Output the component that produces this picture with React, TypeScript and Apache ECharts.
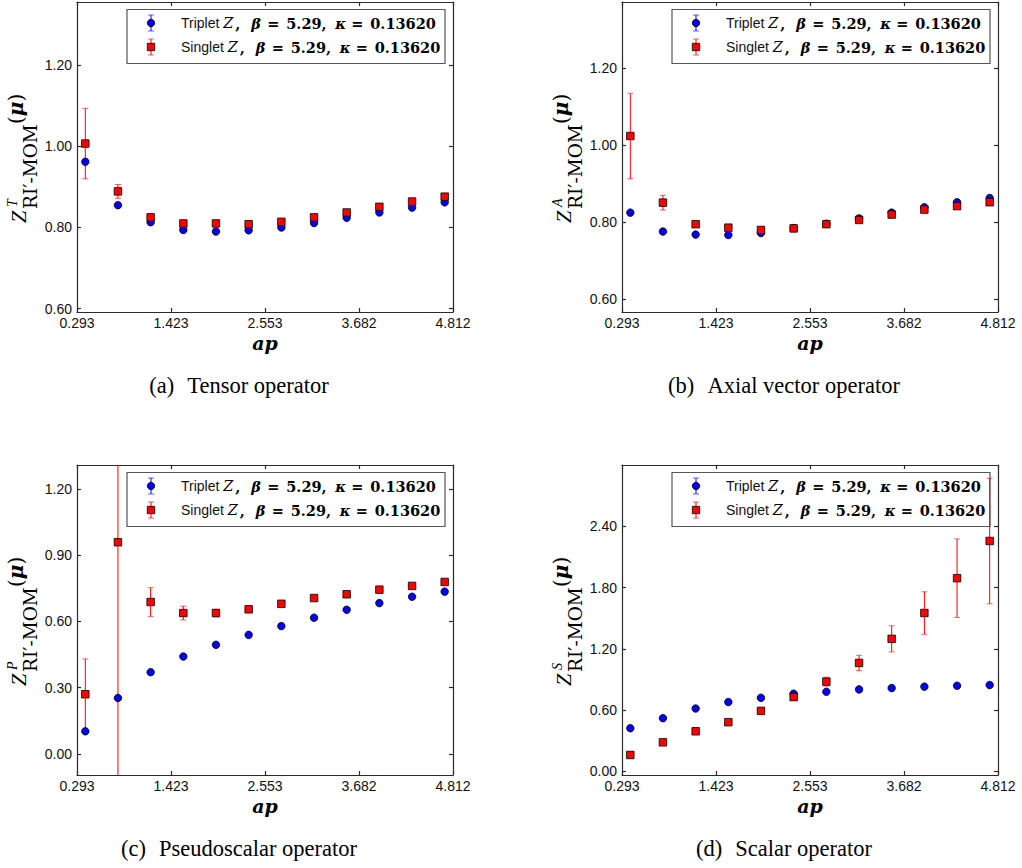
import React, { useEffect, useRef } from "react";
import * as echarts from "echarts";

// ---------- data ----------
const AP = [0.393, 0.785, 1.178, 1.571, 1.963, 2.356, 2.749, 3.142, 3.534, 3.927, 4.32, 4.712];
const X_TICKS = [0.293, 1.423, 2.553, 3.682, 4.812];

// (a) Tensor
const TENSOR_TRIPLET = [0.962, 0.855, 0.813, 0.794, 0.79, 0.793, 0.8, 0.811, 0.824, 0.837, 0.849, 0.862];
const TENSOR_TRIPLET_ERR = [0.003, 0.002, 0.002, 0.002, 0.002, 0.002, 0.002, 0.002, 0.002, 0.002, 0.002, 0.002];
const TENSOR_SINGLET = [1.007, 0.889, 0.825, 0.81, 0.81, 0.808, 0.814, 0.825, 0.837, 0.851, 0.864, 0.876];
const TENSOR_SINGLET_ERR = [0.087, 0.017, 0.006, 0.005, 0.004, 0.004, 0.004, 0.004, 0.004, 0.004, 0.004, 0.004];
const TENSOR_Y_TICKS = [0.6, 0.8, 1.0, 1.2];

// (b) Axial vector
const AXIAL_TRIPLET = [0.825, 0.776, 0.768, 0.767, 0.772, 0.785, 0.796, 0.81, 0.825, 0.839, 0.852, 0.863];
const AXIAL_TRIPLET_ERR = [0.003, 0.002, 0.002, 0.002, 0.002, 0.002, 0.002, 0.002, 0.002, 0.002, 0.002, 0.002];
const AXIAL_SINGLET = [1.024, 0.851, 0.795, 0.786, 0.78, 0.784, 0.795, 0.806, 0.82, 0.833, 0.842, 0.852];
const AXIAL_SINGLET_ERR = [0.111, 0.019, 0.006, 0.005, 0.004, 0.004, 0.004, 0.004, 0.004, 0.004, 0.004, 0.004];
const AXIAL_Y_TICKS = [0.6, 0.8, 1.0, 1.2];

// (c) Pseudoscalar
const PSEUDO_TRIPLET = [0.102, 0.253, 0.37, 0.441, 0.494, 0.539, 0.579, 0.617, 0.653, 0.683, 0.712, 0.735];
const PSEUDO_TRIPLET_ERR = [0.004, 0.003, 0.003, 0.002, 0.002, 0.002, 0.002, 0.002, 0.002, 0.002, 0.002, 0.002];
const PSEUDO_SINGLET = [0.27, 0.959, 0.688, 0.638, 0.638, 0.655, 0.68, 0.706, 0.723, 0.744, 0.761, 0.779];
const PSEUDO_SINGLET_ERR = [0.16, 1.5, 0.065, 0.031, 0.017, 0.01, 0.006, 0.005, 0.004, 0.004, 0.004, 0.004];
const PSEUDO_Y_TICKS = [0.0, 0.3, 0.6, 0.9, 1.2];

// (d) Scalar
const SCALAR_TRIPLET = [0.423, 0.521, 0.616, 0.679, 0.721, 0.761, 0.78, 0.803, 0.816, 0.83, 0.839, 0.846];
const SCALAR_TRIPLET_ERR = [0.004, 0.003, 0.003, 0.003, 0.003, 0.003, 0.003, 0.003, 0.003, 0.003, 0.003, 0.003];
const SCALAR_SINGLET = [0.161, 0.285, 0.393, 0.482, 0.593, 0.728, 0.879, 1.062, 1.298, 1.551, 1.892, 2.256];
const SCALAR_SINGLET_ERR = [0.005, 0.006, 0.008, 0.01, 0.012, 0.022, 0.043, 0.075, 0.128, 0.208, 0.384, 0.615];
const SCALAR_Y_TICKS = [0.0, 0.6, 1.2, 1.8, 2.4];

const LEGEND_BETA = "5.29";
const LEGEND_KAPPA = "0.13620";

// ---------- layout ----------
const PANELS = [
  { left: 77, top: 2, yMin: 0.5916, yMax: 1.356, yTicks: TENSOR_Y_TICKS, sup: "T", cap: "(a)", title: "Tensor operator",
    trip: TENSOR_TRIPLET, tripErr: TENSOR_TRIPLET_ERR, sing: TENSOR_SINGLET, singErr: TENSOR_SINGLET_ERR },
  { left: 622, top: 2, yMin: 0.567, yMax: 1.372, yTicks: AXIAL_Y_TICKS, sup: "A", cap: "(b)", title: "Axial vector operator",
    trip: AXIAL_TRIPLET, tripErr: AXIAL_TRIPLET_ERR, sing: AXIAL_SINGLET, singErr: AXIAL_SINGLET_ERR },
  { left: 77, top: 465, yMin: -0.096, yMax: 1.309, yTicks: PSEUDO_Y_TICKS, sup: "P", cap: "(c)", title: "Pseudoscalar operator",
    trip: PSEUDO_TRIPLET, tripErr: PSEUDO_TRIPLET_ERR, sing: PSEUDO_SINGLET, singErr: PSEUDO_SINGLET_ERR },
  { left: 622, top: 465, yMin: -0.035, yMax: 3.0, yTicks: SCALAR_Y_TICKS, sup: "S", cap: "(d)", title: "Scalar operator",
    trip: SCALAR_TRIPLET, tripErr: SCALAR_TRIPLET_ERR, sing: SCALAR_SINGLET, singErr: SCALAR_SINGLET_ERR },
];
const GW = 376;
const GH = 310;

const AXIS_COLOR = "#2a2a2a";
const BLUE = "#0000ff";
const RED = "#ff0000";

function errorBarSeries(xi: number, color: string, capColor: string, vals: number[], errs: number[], name: string) {
  return {
    type: "custom",
    name,
    xAxisIndex: xi,
    yAxisIndex: xi,
    encode: { x: 0, y: 1 },
    data: AP.map((x, k) => [x, vals[k], errs[k]]),
    renderItem: (params: any, api: any) => {
      const x = api.value(0);
      const y = api.value(1);
      const e = api.value(2);
      const c = api.coord([x, y]);
      const top = api.coord([x, y + e])[1];
      const bot = api.coord([x, y - e])[1];
      const cs = params.coordSys;
      const t = Math.max(top, cs.y);
      const b = Math.min(bot, cs.y + cs.height);
      const children: any[] = [
        { type: "line", shape: { x1: c[0], y1: t, x2: c[0], y2: b }, style: { stroke: color, lineWidth: 1 } },
      ];
      if (top >= cs.y)
        children.push({ type: "line", shape: { x1: c[0] - 3, y1: top, x2: c[0] + 3, y2: top }, style: { stroke: capColor, lineWidth: 1 } });
      if (bot <= cs.y + cs.height)
        children.push({ type: "line", shape: { x1: c[0] - 3, y1: bot, x2: c[0] + 3, y2: bot }, style: { stroke: capColor, lineWidth: 1 } });
      return { type: "group", children };
    },
    z: 2,
  };
}

function markerSeries(xi: number, symbol: string, color: string, vals: number[], name: string) {
  return {
    type: "scatter",
    name,
    xAxisIndex: xi,
    yAxisIndex: xi,
    symbol,
    symbolSize: 7.5,
    itemStyle: { color, borderColor: "#000", borderWidth: 0.8, opacity: 1 },
    data: AP.map((x, k) => [x, vals[k]]),
    z: 2,
  };
}

const MATH_FS = 14.5;
const legendRich = {
  s: { fontFamily: "Liberation Sans", fontSize: 14, fill: "#111" },
  z: { fontFamily: "DejaVu Serif", fontStyle: "italic", fontSize: MATH_FS, fill: "#000", width: 12 },
  c: { fontFamily: "DejaVu Serif", fontWeight: "bold", fontSize: MATH_FS, fill: "#000", width: 16 },
  g: { fontFamily: "DejaVu Serif", fontWeight: "bold", fontStyle: "italic", fontSize: MATH_FS, fill: "#000", width: 16 },
  e1: { fontFamily: "DejaVu Serif", fontWeight: "bold", fontSize: MATH_FS, fill: "#000", width: 19 },
  n1: { fontFamily: "DejaVu Serif", fontWeight: "bold", fontSize: MATH_FS, fill: "#000", width: 49 },
  k: { fontFamily: "DejaVu Serif", fontWeight: "bold", fontStyle: "italic", fontSize: MATH_FS, fill: "#000", width: 16 },
  e2: { fontFamily: "DejaVu Serif", fontWeight: "bold", fontSize: MATH_FS, fill: "#000", width: 19 },
  n2: { fontFamily: "DejaVu Serif", fontWeight: "bold", fontSize: MATH_FS, fill: "#000" },
};

function legendEntryText(label: string) {
  return `{s|${label} }{z|Z}{c|,}{g|β}{e1|=}{n1|${LEGEND_BETA},}{k|κ}{e2|=}{n2|${LEGEND_KAPPA}}`;
}

function legendGroup(lx: number, ly: number) {
  const rows = [
    { y: 13.5, label: "Triplet", color: BLUE, cap: "rgba(0,0,255,0.6)", marker: "circle" },
    { y: 37.5, label: "Singlet", color: RED, cap: "rgba(255,0,0,0.6)", marker: "rect" },
  ];
  const children: any[] = [
    { type: "rect", shape: { x: 0, y: 0, width: 318, height: 54 }, style: { fill: "#fff", stroke: "#555", lineWidth: 1.2 } },
  ];
  rows.forEach((r) => {
    children.push({ type: "line", shape: { x1: 24, y1: r.y - 8, x2: 24, y2: r.y + 8 }, style: { stroke: r.color, lineWidth: 1 } });
    children.push({ type: "line", shape: { x1: 21, y1: r.y - 8, x2: 27, y2: r.y - 8 }, style: { stroke: r.cap, lineWidth: 1 } });
    children.push({ type: "line", shape: { x1: 21, y1: r.y + 8, x2: 27, y2: r.y + 8 }, style: { stroke: r.cap, lineWidth: 1 } });
    if (r.marker === "circle") {
      children.push({ type: "circle", shape: { cx: 24, cy: r.y, r: 3.7 }, style: { fill: r.color, stroke: "#000", lineWidth: 0.8 } });
    } else {
      children.push({ type: "rect", shape: { x: 20.3, y: r.y - 3.7, width: 7.4, height: 7.4 }, style: { fill: r.color, stroke: "#000", lineWidth: 0.8 } });
    }
    children.push({
      type: "text",
      style: { text: legendEntryText(r.label), rich: legendRich, x: 54, y: r.y, verticalAlign: "middle", textAlign: "left" },
    });
  });
  return { type: "group", x: lx, y: ly, children, z: 10 };
}

function yLabelGroup(px: number, py: number, sup: string) {
  return {
    type: "group",
    x: px,
    y: py,
    rotation: Math.PI / 2,
    children: [
      { type: "text", style: { text: "Z", x: 0, y: -6.8, fontFamily: "Liberation Serif", fontStyle: "italic", fontSize: 22, fill: "#000", verticalAlign: "middle" } },
      { type: "text", style: { text: sup, x: 16, y: -13, fontFamily: "Liberation Serif", fontStyle: "italic", fontSize: 14, fill: "#000", verticalAlign: "middle" } },
      { type: "text", style: { text: "RI′-MOM", x: 14, y: 5, fontFamily: "DejaVu Serif", fontSize: 18.5, fill: "#000", verticalAlign: "middle" } },
      { type: "text", style: {
        text: "{p|(}{u|μ}{p|)}", x: 99, y: -9, verticalAlign: "middle",
        rich: {
          p: { fontFamily: "DejaVu Serif", fontSize: 20, fill: "#000" },
          u: { fontFamily: "DejaVu Serif", fontWeight: "bold", fontStyle: "italic", fontSize: 20, fill: "#000" },
        } } },
    ],
  };
}

function buildOption() {
  const grid: any[] = [];
  const xAxis: any[] = [];
  const yAxis: any[] = [];
  const series: any[] = [];
  const graphic: any[] = [];
  const lineStyle = { color: AXIS_COLOR, width: 1.2 };
  const tickLabel = { color: "#111", fontFamily: "Liberation Sans", fontSize: 14 };

  PANELS.forEach((p, i) => {
    grid.push({ left: p.left, top: p.top, width: GW, height: GH, containLabel: false });
    xAxis.push({
      gridIndex: i, type: "value", position: "bottom", min: 0.293, max: 4.812,
      axisLine: { show: true, onZero: false, lineStyle },
      axisTick: { show: true, inside: true, length: 4, customValues: X_TICKS, lineStyle },
      axisLabel: { show: true, customValues: X_TICKS, formatter: (v: number) => v.toFixed(3), margin: 4, ...tickLabel },
      splitLine: { show: false },
    });
    xAxis.push({
      gridIndex: i, type: "value", position: "top", min: 0.293, max: 4.812,
      axisLine: { show: true, onZero: false, lineStyle },
      axisTick: { show: true, inside: true, length: 4, customValues: X_TICKS, lineStyle },
      axisLabel: { show: false },
      splitLine: { show: false },
    });
    yAxis.push({
      gridIndex: i, type: "value", position: "left", min: p.yMin, max: p.yMax,
      axisLine: { show: true, onZero: false, lineStyle },
      axisTick: { show: true, inside: true, length: 4, customValues: p.yTicks, lineStyle },
      axisLabel: { show: true, customValues: p.yTicks, formatter: (v: number) => v.toFixed(2), margin: 5, ...tickLabel },
      splitLine: { show: false },
    });
    yAxis.push({
      gridIndex: i, type: "value", position: "right", min: p.yMin, max: p.yMax,
      axisLine: { show: true, onZero: false, lineStyle },
      axisTick: { show: true, inside: true, length: 4, customValues: p.yTicks, lineStyle },
      axisLabel: { show: false },
      splitLine: { show: false },
    });
    const xi = 2 * i;
    series.push(errorBarSeries(xi, BLUE, "rgba(0,0,255,0.6)", p.trip, p.tripErr, "Triplet err"));
    series.push(markerSeries(xi, "circle", BLUE, p.trip, "Triplet"));
    series.push(errorBarSeries(xi, RED, "rgba(255,0,0,0.6)", p.sing, p.singErr, "Singlet err"));
    series.push(markerSeries(xi, "rect", RED, p.sing, "Singlet"));

    graphic.push(legendGroup(p.left + 50, p.top + 7.5));
    graphic.push(yLabelGroup(p.left - 52, p.top + 221, p.sup));
    graphic.push({
      type: "text",
      style: {
        text: "ap", x: p.left + GW / 2, y: p.top + 341, textAlign: "center", verticalAlign: "middle",
        fontFamily: "DejaVu Serif", fontWeight: "bold", fontStyle: "italic", fontSize: 19, fill: "#000",
      },
    });
    graphic.push({
      type: "text",
      style: {
        text: `${p.cap}\u2002\u200a${p.title}`, x: p.left + 162, y: p.top + 383, textAlign: "center", verticalAlign: "middle",
        fontFamily: "Liberation Serif", fontSize: 22.5, fill: "#000",
      },
    });
  });

  return { animation: false, backgroundColor: "#fff", grid, xAxis, yAxis, series, graphic };
}

export default function App() {
  const ref = useRef<HTMLDivElement>(null);
  useEffect(() => {
    if (!ref.current) return;
    const chart = echarts.init(ref.current, null, { renderer: "svg" });
    chart.setOption(buildOption() as any);
    return () => chart.dispose();
  }, []);
  return (
    <div
      ref={ref}
      style={{ position: "fixed", left: 0, top: 0, width: 1022, height: 868, background: "#fff" }}
    />
  );
}
